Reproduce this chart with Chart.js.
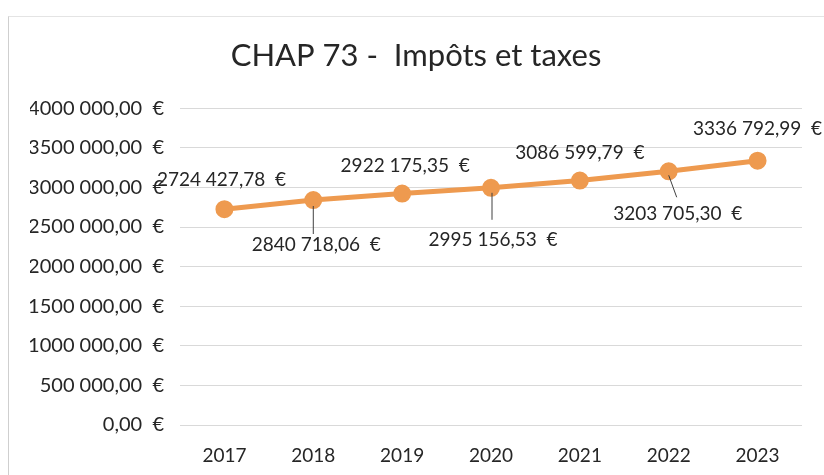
<!DOCTYPE html>
<html>
<head>
<meta charset="utf-8">
<script src="https://cdn.jsdelivr.net/npm/chart.js@4.4.0/dist/chart.umd.min.js"></script>
<style>
  html, body { margin: 0; padding: 0; background: #fff; }
  #wrap { position: relative; width: 824px; height: 475px; }
  #frame { position: absolute; left: 8px; top: 16px; width: 830px; height: 470px;
           border-left: 1px solid #cfcfcf; border-top: 1px solid #e4e4e4; }
  canvas { position: absolute; left: 0; top: 0; }
</style>
</head>
<body>
<div id="wrap">
  <div id="frame"></div>
  <canvas id="myChart" width="824" height="475"></canvas>
</div>
<script>
const years = ['2017', '2018', '2019', '2020', '2021', '2022', '2023'];
const montants = [2724427.78, 2840718.06, 2922175.35, 2995156.53, 3086599.79, 3203705.30, 3336792.99];
const yTicks = [0, 500000, 1000000, 1500000, 2000000, 2500000, 3000000, 3500000, 4000000];
// placement des étiquettes : décalage du centre par rapport au point, et trait de rappel
const labelOffsets = [[-3, -29], [3, 45], [3, -28], [2, 52], [0, -28], [9, 43], [0, -32]];
const leaders = [null, [0, 6, 0, 34], null, [1, 5, 1, 32], null, [0, 4, 8, 26], null];

const FONT = 'Lato, "Open Sans", sans-serif';

function euro(v) {
    const parts = v.toFixed(2).split('.');
    let ent = parts[0];
    if (ent.length > 3) ent = ent.slice(0, -3) + ' ' + ent.slice(-3);
    return ent + ',' + parts[1] + '  €';
}

const dataLabels = {
    id: 'dataLabels',
    afterDatasetsDraw(chart) {
        const ctx = chart.ctx;
        const meta = chart.getDatasetMeta(0);
        ctx.save();
        ctx.font = '19px ' + FONT;
        ctx.fillStyle = '#262626';
        ctx.textAlign = 'center';
        ctx.textBaseline = 'middle';
        meta.data.forEach((pt, i) => {
            const off = labelOffsets[i];
            ctx.fillText(euro(montants[i]), pt.x + off[0], pt.y + off[1]);
            const l = leaders[i];
            if (l) {
                ctx.strokeStyle = '#404040';
                ctx.lineWidth = 1;
                ctx.beginPath();
                ctx.moveTo(pt.x + l[0], pt.y + l[1]);
                ctx.lineTo(pt.x + l[2], pt.y + l[3]);
                ctx.stroke();
            }
        });
        ctx.restore();
    }
};

const chart = new Chart(document.getElementById('myChart').getContext('2d'), {
    type: 'line',
    data: {
        labels: years,
        datasets: [{
            label: 'CHAP 73',
            data: montants,
            borderColor: '#EE9A4F',
            backgroundColor: '#EE9A4F',
            borderWidth: 5,
            pointRadius: 6.5,
            pointHoverRadius: 6.5,
            pointBackgroundColor: '#EE9A4F',
            pointBorderColor: '#EE9A4F',
            tension: 0
        }]
    },
    options: {
        responsive: false,
        animation: false,
        layout: { padding: { left: 30, right: 22, top: 0, bottom: 8 } },
        plugins: {
            legend: { display: false },
            tooltip: { enabled: false },
            title: {
                display: true,
                text: 'CHAP 73 -  Impôts et taxes',
                color: '#262626',
                font: { family: FONT, size: 31, weight: 'normal' },
                padding: { top: 37, bottom: 34 }
            }
        },
        scales: {
            x: {
                offset: true,
                grid: { display: false },
                border: { display: false },
                ticks: { color: '#262626', font: { family: FONT, size: 19 }, padding: 11 },
                afterFit(scale) { scale.height = 42; }
            },
            y: {
                min: 0,
                max: 4000000,
                afterBuildTicks(scale) { scale.ticks = yTicks.map(v => ({ value: v })); },
                grid: { color: '#d9d9d9', lineWidth: 1, drawTicks: false },
                border: { display: false },
                ticks: {
                    color: '#262626',
                    font: { family: FONT, size: 20 },
                    padding: 16,
                    callback: (v) => euro(v)
                },
                afterFit(scale) { scale.width = 150; }
            }
        }
    },
    plugins: [dataLabels]
});
</script>
</body>
</html>
